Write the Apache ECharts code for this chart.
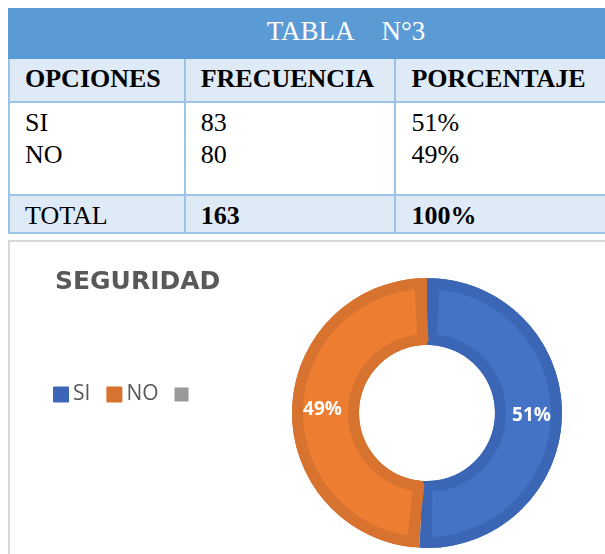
<!DOCTYPE html>
<html>
<head>
<meta charset="utf-8">
<script src="https://cdn.jsdelivr.net/npm/echarts@6/dist/echarts.min.js"></script>
<style>
html, body { margin: 0; padding: 0; width: 605px; height: 554px; overflow: hidden; background: #fff; }
#tabla { position: absolute; left: 8px; top: 8px; width: 676px; border-collapse: collapse; font-family: "Liberation Serif", "Times New Roman", serif; color: #000; }
#tabla td { border: 2px solid #9dc3e6; padding: 0 0 0 15px; font-size: 26px; box-sizing: border-box; }
#tabla .cab td { background: #5b9bd5; color: #fff; text-align: center; height: 49px; padding: 0 0 4px 0; font-size: 27px; border-color: #5b9bd5; }
#tabla .enc td { background: #deeaf6; font-weight: bold; height: 44px; padding-top: 0; padding-bottom: 2px; }
#tabla .dat td { background: #fff; height: 93px; vertical-align: top; padding-top: 4px; line-height: 32px; }
#tabla .tot td { background: #deeaf6; height: 38px; padding-top: 3px; }
#caja { position: absolute; left: 8px; top: 240px; width: 620px; height: 330px; border: 2px solid #d9d9d9; }
#grafico { width: 100%; height: 100%; }
</style>
</head>
<body>
<table id="tabla"></table>
<div id="caja"><div id="grafico"></div></div>
<script>
// datos de la tabla
var tituloTabla = 'TABLA\u00a0\u00a0\u00a0\u00a0N°3';
var encabezados = ['OPCIONES', 'FRECUENCIA', 'PORCENTAJE'];
var opciones = ['SI', 'NO'];
var frecuencia = [83, 80];
var porcentaje = ['51%', '49%'];
var filaTotal = ['TOTAL', '163', '100%'];

// datos del grafico
var tituloGrafico = 'SEGURIDAD';
var leyenda = ['SI', 'NO', ' '];
var valores = [83, 80, 0];
var colorRelleno = ['#4472c4', '#ed7d31', '#a5a5a5'];
var colorBorde = ['#3a66b5', '#d7722f', '#999999'];

var html = '';
html += '<tr class="cab"><td colspan="3">' + tituloTabla + '</td></tr>';
html += '<tr class="enc">';
for (var i = 0; i < encabezados.length; i++) {
    html += '<td style="width:' + [176, 211, 289][i] + 'px">' + encabezados[i] + '</td>';
}
html += '</tr>';
html += '<tr class="dat"><td>' + opciones.join('<br>') + '</td><td>' + frecuencia.join('<br>') + '</td><td>' + porcentaje.join('<br>') + '</td></tr>';
html += '<tr class="tot"><td>' + filaTotal[0] + '</td><td><b>' + filaTotal[1] + '</b></td><td><b>' + filaTotal[2] + '</b></td></tr>';
document.getElementById('tabla').innerHTML = html;

var datosFondo = [];
var datosAnillo = [];
for (var j = 0; j < leyenda.length; j++) {
    datosFondo.push({ name: leyenda[j], value: valores[j], itemStyle: { color: colorBorde[j] } });
    if (valores[j] > 0) {
        datosAnillo.push({ name: leyenda[j], value: valores[j], itemStyle: { color: colorRelleno[j], borderColor: colorBorde[j] } });
    }
}

var optionSeguridad = {
    animation: false,
    title: {
        text: tituloGrafico,
        left: 45,
        top: 28,
        padding: 0,
        textStyle: {
            fontFamily: 'DejaVu Sans',
            fontWeight: 'bold',
            fontSize: 25,
            color: '#595959'
        }
    },
    legend: {
        data: leyenda.map(function (n, k) {
            return { name: n, itemStyle: { color: colorBorde[k] } };
        }),
        left: 43,
        top: 142,
        padding: 0,
        orient: 'horizontal',
        itemWidth: 14,
        itemHeight: 14,
        itemGap: 16,
        icon: 'rect',
        textStyle: {
            fontFamily: 'Open Sans',
            fontSize: 21,
            color: '#595959'
        }
    },
    series: [
        {
            name: 'Seguridad',
            type: 'pie',
            z: 3,
            center: [417, 171],
            radius: [73.5, 129.5],
            padAngle: 6.2,
            startAngle: 90,
            percentPrecision: 0,
            itemStyle: { borderWidth: 11 },
            label: {
                show: true,
                position: 'inside',
                formatter: '{d}%',
                color: '#fff',
                fontFamily: 'Open Sans',
                fontWeight: 'bold',
                fontSize: 19
            },
            labelLine: { show: false },
            emphasis: { disabled: true },
            data: datosAnillo
        },
        {
            name: 'Borde',
            type: 'pie',
            z: 2,
            silent: true,
            center: [417, 171],
            radius: [68, 135],
            startAngle: 90,
            label: { show: false },
            labelLine: { show: false },
            emphasis: { disabled: true },
            data: datosFondo
        }
    ]
};
var chartSeguridad = echarts.init(document.getElementById('grafico'));
chartSeguridad.setOption(optionSeguridad);
</script>
</body>
</html>
